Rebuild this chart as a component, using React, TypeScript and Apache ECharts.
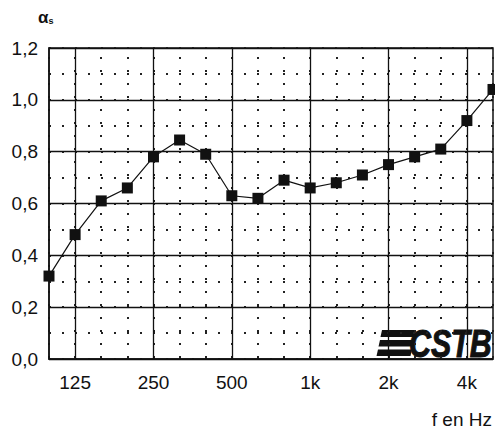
import React, { useEffect, useRef } from "react";
import * as echarts from "echarts";

const bands = ["100","125","160","200","250","315","400","500","630","800","1k","1.25k","1.6k","2k","2.5k","3.15k","4k","5k"];
const octaveLabels: Record<string, string> = { "125": "125", "250": "250", "500": "500", "1k": "1k", "2k": "2k", "4k": "4k" };
const alphaS = [0.32, 0.48, 0.61, 0.66, 0.78, 0.845, 0.79, 0.63, 0.62, 0.69, 0.66, 0.68, 0.71, 0.75, 0.78, 0.81, 0.92, 1.04];
const yMin = 0;
const yMax = 1.2;

const FONT = "Liberation Sans, Arial, sans-serif";

export default function App() {
  const ref = useRef<HTMLDivElement>(null);
  useEffect(() => {
    if (!ref.current) return;
    const chart = echarts.init(ref.current, null, { renderer: "svg" });
    const isOct = (i: number) => i % 3 === 1;
    chart.setOption({
      animation: false,
      backgroundColor: "#ffffff",
      grid: { left: 49, right: 2, top: 48, bottom: 71, show: true, borderColor: "#111", borderWidth: 1.5, backgroundColor: "transparent" },
      xAxis: [
        {
          type: "category",
          data: bands,
          boundaryGap: false,
          axisLine: { show: true, lineStyle: { color: "#111", width: 1.5 } },
          axisTick: { show: false },
          axisLabel: {
            interval: (i: number) => isOct(i),
            formatter: (v: string) => octaveLabels[v] || "",
            color: "#111",
            fontFamily: FONT,
            fontSize: 19,
            margin: 14,
          },
          splitLine: { show: true, interval: (i: number) => isOct(i), lineStyle: { color: "#111", width: 1.3, type: "solid" } },
          z: 3,
        },
        {
          type: "value",
          min: 0,
          max: bands.length - 1,
          interval: 1,
          position: "bottom",
          axisLine: { show: false },
          axisTick: { show: false },
          axisLabel: { show: false },
          splitLine: { show: true, lineStyle: { color: "#222", width: 2, type: [2, 11], dashOffset: 4 } },
          z: 1,
        },
      ],
      yAxis: [
        {
          type: "value",
          min: yMin,
          max: yMax,
          interval: 0.2,
          axisLine: { show: true, lineStyle: { color: "#111", width: 1.5 } },
          axisTick: { show: false },
          axisLabel: {
            formatter: (v: number) => v.toFixed(1).replace(".", ","),
            color: "#111",
            fontFamily: FONT,
            fontSize: 19,
            margin: 11,
          },
          splitLine: { show: true, lineStyle: { color: "#111", width: 1.3, type: "solid" } },
          z: 3,
        },
        {
          type: "value",
          min: yMin,
          max: yMax,
          interval: 0.1,
          axisLine: { show: false },
          axisTick: { show: false },
          axisLabel: { show: false },
          splitLine: { show: true, lineStyle: { color: "#222", width: 2, type: [2, 11], dashOffset: 0 } },
          z: 1,
        },
      ],
      series: [
        {
          type: "line",
          xAxisIndex: 0,
          yAxisIndex: 0,
          data: alphaS,
          symbol: "rect",
          symbolSize: 11,
          lineStyle: { color: "#111", width: 1.2 },
          itemStyle: { color: "#111" },
          z: 5,
        },
      ],
      graphic: [
        {
          type: "text",
          x: 38,
          y: 17,
          style: {
            text: "{a|α}{s|s}",
            rich: {
              a: { fontFamily: FONT, fontSize: 17, fontWeight: "bold", fill: "#111" },
              s: { fontFamily: FONT, fontSize: 9, fontWeight: "bold", fill: "#111", padding: [8, 0, 0, 0] },
            },
            verticalAlign: "middle",
          },
        },
        {
          type: "text",
          x: 492,
          y: 419,
          style: { text: "f en Hz", fontFamily: FONT, fontSize: 19, fill: "#111", align: "right", verticalAlign: "middle" },
        },
        {
          type: "group",
          z: 10,
          children: [
            { type: "polygon", shape: { points: [[382, 330], [416, 330], [414.5, 337], [380.5, 337]] }, style: { fill: "#111" } },
            { type: "polygon", shape: { points: [[380, 340], [414, 340], [412.5, 346.5], [378.5, 346.5]] }, style: { fill: "#111" } },
            { type: "polygon", shape: { points: [[378, 349.5], [412, 349.5], [410.5, 356], [376.5, 356]] }, style: { fill: "#111" } },
            {
              type: "text",
              x: 409,
              y: 344,
              scaleX: 0.8,
              style: { text: "CSTB", fontFamily: FONT, fontSize: 38, fontWeight: "bold", fontStyle: "italic", fill: "#111", stroke: "#111", lineWidth: 1, verticalAlign: "middle", align: "left" },
            },
          ],
        },
      ],
    });
    return () => chart.dispose();
  }, []);
  return <div ref={ref} style={{ position: "fixed", left: 0, top: 0, width: 495, height: 430 }} />;
}
